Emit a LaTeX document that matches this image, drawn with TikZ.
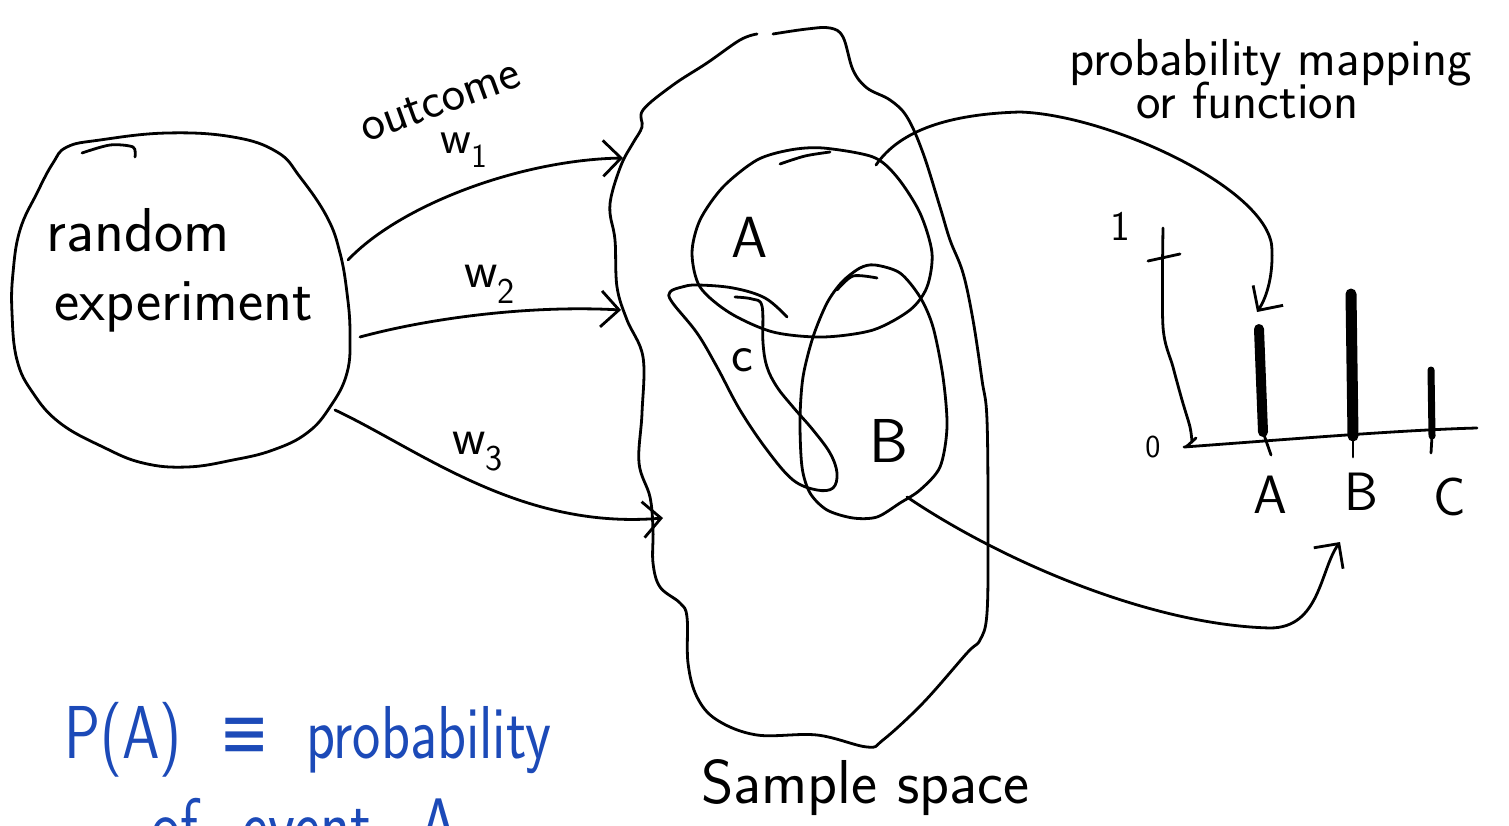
\documentclass[tikz,border=0pt]{standalone}
\usepackage{fontspec}
\usetikzlibrary{arrows.meta}
\newfontfamily\symfont{DejaVu Sans}
\definecolor{penblue}{RGB}{28,74,184}
\begin{document}
\begin{tikzpicture}[x=1pt,y=-1pt,line width=2.8pt,line cap=round,line join=round,
  hw/.style={font=\sffamily\fontsize{#1}{#1}\selectfont,inner sep=0pt},
  arr/.style={-{Straight Barb[length=18pt,width=36pt]}},
  barstroke/.style={line width=#1,line cap=round}]
\useasboundingbox (0,0) rectangle (1509,826);

% ---------- random experiment ----------
\draw plot[smooth cycle,tension=0.7] coordinates {(67,147) (100,140) (167,133) (233,137) (277,152) (300,177) (327,217) (340,253) (347,293) (350,333) (347,373) (330,407) (307,433) (273,450) (233,460) (187,467) (143,463) (103,447) (60,423) (33,393) (17,360) (12,313) (13,273) (20,230) (37,193) (53,163)};
\draw plot[smooth] coordinates {(82,153) (110,145) (133,147) (135,157)};
\node[hw=62,anchor=base west] (rnd) at (45,252) {random};
\node[hw=60,anchor=base west] (exp) at (53,320) {experiment};

% ---------- sample space ----------
\draw plot[smooth,tension=0.6] coordinates {(773,34) (807,29) (830,28) (843,37) (853,70) (867,88) (890,100) (907,117) (923,153) (940,207) (950,240) (963,273) (973,320) (982,380) (987,420) (988,530) (987,613) (980,640) (967,653) (923,703) (883,740) (867,747) (817,735) (757,735) (717,720) (697,697) (688,663) (687,617) (680,603) (660,587) (653,563) (653,530) (650,497) (639,463) (642,413) (643,357) (627,320) (617,287) (615,240) (610,213) (612,193) (622,163) (633,143) (642,127) (643,110) (673,85) (707,63) (740,40) (757,34)};
\node[hw=62,anchor=base west] (ss) at (700,803) {Sample space};

% event A
\draw plot[smooth cycle] coordinates {(823,148) (873,157) (897,177) (920,213) (932,253) (927,287) (910,310) (873,330) (823,337) (773,332) (730,313) (700,287) (692,253) (700,220) (723,187) (757,160) (790,150)};
\draw plot[smooth] coordinates {(780,164) (805,156) (830,152)};
\node[hw=58] (lA) at (750,237) {A};

% event C
\draw plot[smooth,tension=0.6] coordinates {(735,297) (752,299) (762,306) (763,343) (767,367) (777,387) (793,407) (813,430) (830,453) (837,473) (833,488) (817,490) (793,480) (767,450) (740,410) (717,367) (697,333) (672,302) (670,292) (682,287) (697,285) (733,288) (765,298) (787,317)};
\node[hw=52] (lC) at (742,360) {c};

% event B
\draw plot[smooth cycle] coordinates {(860,268) (875,265) (900,273) (920,297) (933,327) (943,377) (947,427) (940,467) (920,490) (900,503) (877,517) (853,518) (827,510) (810,493) (802,467) (800,420) (803,377) (813,337) (827,303) (842,282)};
\draw plot[smooth] coordinates {(837,290) (853,276) (877,278)};
\node[hw=62] (lB) at (889,441) {B};

% ---------- outcomes ----------
\coordinate (w1s) at (348,260);
\coordinate (w1e) at (623,158);
\coordinate (w2s) at (360,337);
\coordinate (w2e) at (621,310);
\coordinate (w3s) at (335,410);
\coordinate (w3e) at (663,518);
\draw[arr] (w1s) .. controls (400,205) and (520,160) .. (w1e);
\draw[arr] (w2s) .. controls (430,318) and (530,305) .. (w2e);
\draw[arr] (w3s) .. controls (420,450) and (520,530) .. (w3e);
\node[hw=50,rotate=20] (oc) at (440,101) {outcome};
\node[hw=48] (w1) at (464,150) {w\textsubscript{1}};
\node[hw=52] (w2) at (490,284) {w\textsubscript{2}};
\node[hw=52] (w3) at (478,452) {w\textsubscript{3}};

% ---------- probability mapping ----------
\node[hw=52,anchor=base west] (pm) at (1068,76) {probability mapping};
\node[hw=52,anchor=base west] (pf) at (1135,119) {or function};

% axes
\coordinate (ytop) at (1163,228);
\coordinate (org) at (1184,447);
\coordinate (xend) at (1477,428);
\draw plot[smooth] coordinates {(ytop) (1163,327) (1173,367) (1182,400) (1190,427) (1192,442)};
\draw (1186,447) -- (1196,438);
\draw (org) .. controls (1280,440) and (1400,430) .. (xend);
\draw (1148,261) -- (1180,254);
\node[hw=42] (one) at (1120,226) {1};
\node[hw=32] (zero) at (1153,447) {0};

% bars
\coordinate (bA) at (1259,329);
\coordinate (bB) at (1351,294);
\coordinate (bC) at (1431,370);
\draw[barstroke=10pt] (bA) -- (1263,432);
\draw (1263,432) -- (1271,455);
\draw[barstroke=11pt] (bB) -- (1353,436);
\draw (1353,436) -- (1353,457);
\draw[barstroke=7pt] (bC) -- (1432,436);
\draw (1432,436) -- (1431,453);
\node[hw=54] (xA) at (1270,495) {A};
\node[hw=54] (xB) at (1361,492) {B};
\node[hw=54] (xC) at (1450,497) {C};

% mapping arrows
\coordinate (mAs) at (876,165);
\coordinate (mAe) at (1257,312);
\coordinate (mBs) at (907,497);
\coordinate (mBe) at (1340,542);
\draw[arr] (mAs) .. controls (900,130) and (950,114) .. (1020,112) .. controls (1110,115) and (1272,190) .. (1272,250) .. controls (1273,280) and (1265,300) .. (mAe);
\draw[arr] (mBs) .. controls (1000,560) and (1150,625) .. (1270,628) .. controls (1320,628) and (1320,570) .. (mBe);

% ---------- blue note ----------
\node[hw=60,anchor=base west,text=penblue] (pa) at (63,758) {\scalebox{1}[1.25]{P(A)\hspace{38pt}{\symfont ≡}\hspace{36pt}probability}};
\node[hw=62,anchor=base west,text=penblue] (pb) at (150,850) {\scalebox{1}[1.2]{of\hspace{44pt}event\hspace{48pt}A}};
\end{tikzpicture}
\end{document}
